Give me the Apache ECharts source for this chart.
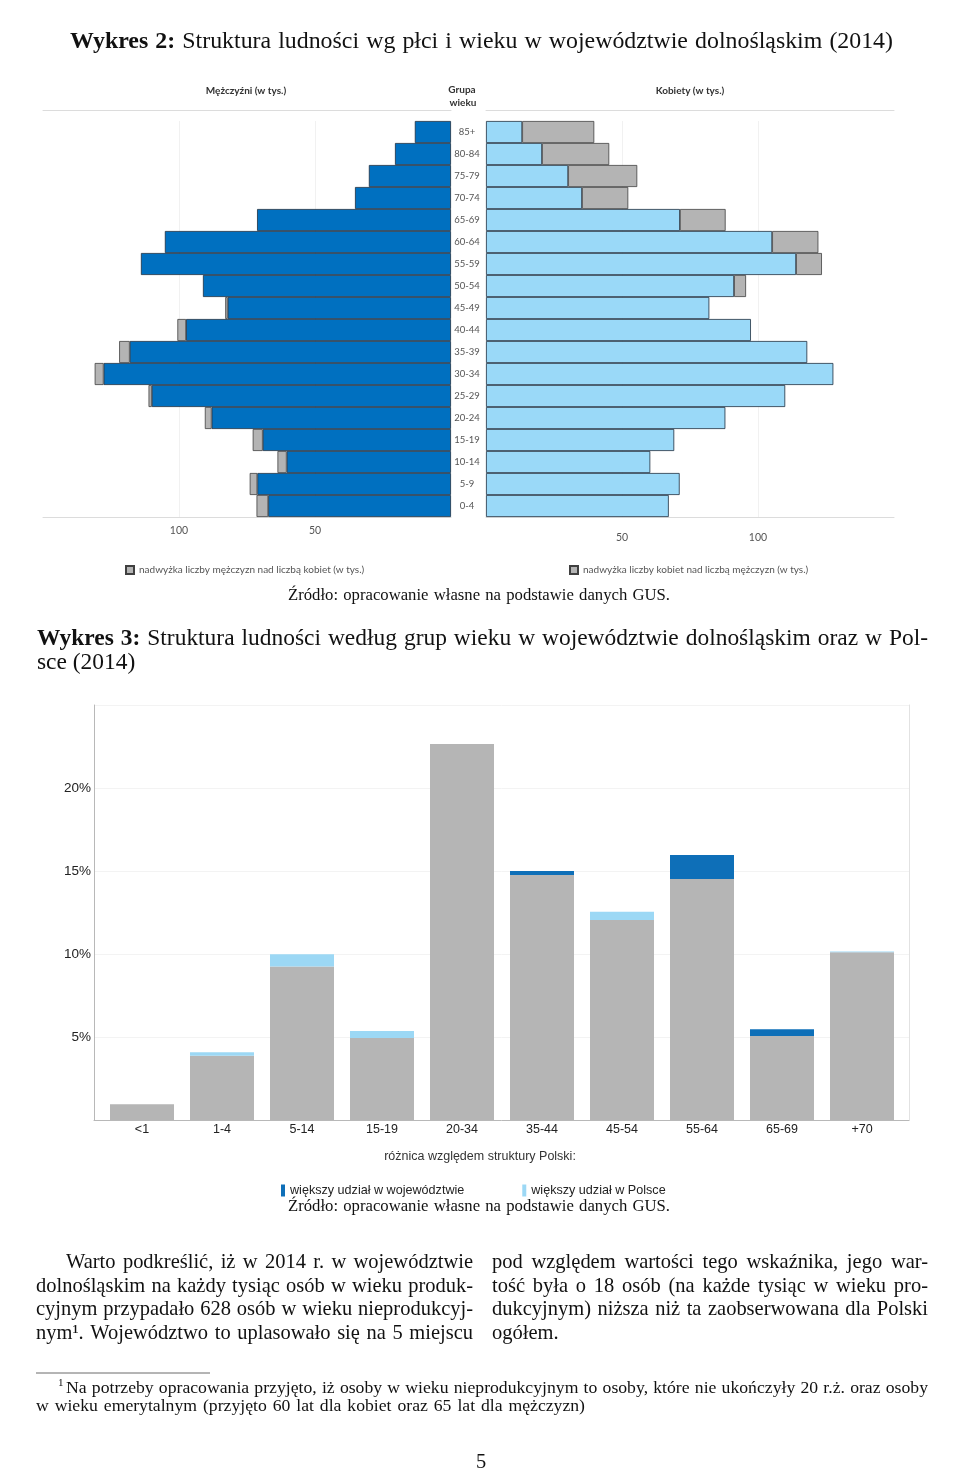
<!DOCTYPE html>
<html><head><meta charset="utf-8">
<script src="https://cdn.jsdelivr.net/npm/echarts@6/dist/echarts.min.js"></script>
<style>html,body{margin:0;padding:0;background:#fff}#c{width:960px;height:1472px}</style>
</head><body><div id="c"></div><script>
// ---------- DATA ----------
const ageGroups = ['0-4','5-9','10-14','15-19','20-24','25-29','30-34','35-39','40-44','45-49','50-54','55-59','60-64','65-69','70-74','75-79','80-84','85+'];
const menThousands   = [71.5, 74.0, 63.8, 72.9, 90.5, 111.2, 131.0, 122.0, 100.6, 83.0, 91.2, 114.0, 105.2, 71.3, 35.3, 30.2, 20.6, 13.3];
const womenThousands = [67.2, 71.2, 60.4, 69.2, 88.0, 110.0, 127.7, 118.1, 97.4, 82.1, 95.6, 123.5, 122.2, 88.1, 52.3, 55.6, 45.3, 39.8];

const shareGroups = ['<1','1-4','5-14','15-19','20-34','35-44','45-54','55-64','65-69','+70'];
const shareRegion = [0.95, 3.87, 9.24, 4.94, 22.65, 15.00, 12.05, 15.96, 5.46, 10.10];
const sharePoland = [0.95, 4.08, 9.98, 5.36, 22.65, 14.76, 12.55, 14.52, 5.06, 10.15];
const shareTicks = [5, 10, 15, 20];

// ---------- DERIVED ----------
const common = menThousands.map((m,i)=>Math.min(m, womenThousands[i]));
const menExcess = menThousands.map((m,i)=>{const d=m-womenThousands[i]; return d>0.05? +d.toFixed(2) : '-';});
const womenExcess = womenThousands.map((w,i)=>{const d=w-menThousands[i]; return d>0.05? +d.toFixed(2) : '-';});
const shareBase = shareRegion.map((r,i)=>Math.min(r, sharePoland[i]));
const shareRegionMore = shareRegion.map((r,i)=>{const d=r-sharePoland[i]; return d>0.001? +d.toFixed(3) : '-';});
const sharePolandMore = shareRegion.map((r,i)=>{const d=sharePoland[i]-r; return d>0.001? +d.toFixed(3) : '-';});

// ---------- TEXT HELPERS ----------
const SERIF = '"Liberation Serif", "DejaVu Serif", serif';
const mctx = document.createElement('canvas').getContext('2d');
function mw(t, size, bold){ mctx.font = (bold?'bold ':'') + size + 'px "Liberation Serif"'; return mctx.measureText(t).width; }
function natural(str, size, nb){
  const words = str.split(' ');
  let t = 0; words.forEach((w,i)=>{ t += mw(w, size, i<(nb||0)); });
  return t + (words.length-1)*mw(' ', size, false);
}
function fitSize(str, width, nb, slack){ return 20 * width / natural(str, 20, nb) * (slack||1); }
function line(str, x0, x1, y, size, opts){
  opts = opts || {};
  const words = str.split(' ');
  const nb = opts.bold || 0;
  const ws = words.map((w,i)=>mw(w, size, i<nb));
  const tot = ws.reduce((a,b)=>a+b,0);
  const gap = (opts.justify!==false && words.length>1) ? (x1-x0-tot)/(words.length-1) : mw(' ', size, false);
  let cx = x0; const els = [];
  words.forEach((w,i)=>{
    els.push({type:'text', x:cx, y:y, silent:true, style:{text:w, fontSize:size, fontFamily:SERIF,
      fontWeight:i<nb?'bold':'normal', fill:opts.color||'#111', align:'left', verticalAlign:'middle',
      textAlign:'left', textVerticalAlign:'middle'}});
    cx += ws[i] + gap;
  });
  return els;
}
function label(str, x, y, size, opts){
  opts = opts || {};
  return {type:'text', x:x, y:y, silent:true, style:{text:str, fontSize:size, fontFamily:opts.family||'"Liberation Sans", Arial, sans-serif',
    fontWeight:opts.weight||'normal', fill:opts.color||'#333', align:opts.align||'center', verticalAlign:'middle',
    textAlign:opts.align||'center', textVerticalAlign:'middle'}};
}
const LATO = 'Lato, "Liberation Sans", sans-serif';
const SANS = '"Liberation Sans", Arial, sans-serif';

let G = [];
const t1 = 'Wykres 2: Struktura ludności wg płci i wieku w województwie dolnośląskim (2014)';
const t1s = fitSize(t1, 823, 2, 0.985);
G = G.concat(line(t1, 70, 893, 42, t1s, {bold:2}));
G.push(label('Mężczyźni (w tys.)', 246, 91, 10, {family:LATO, weight:'bold', color:'#333'}));
G.push(label('Grupa', 462, 90, 10, {family:LATO, weight:'bold', color:'#333'}));
G.push(label('wieku', 463, 103, 10, {family:LATO, weight:'bold', color:'#333'}));
G.push(label('Kobiety (w tys.)', 690, 91, 10, {family:LATO, weight:'bold', color:'#333'}));
const src = 'Źródło: opracowanie własne na podstawie danych GUS.';
const srcS = fitSize(src, 382, 0, 0.985);
G = G.concat(line(src, 288, 670, 596, srcS));
const t2 = 'Wykres 3: Struktura ludności według grup wieku w województwie dolnośląskim oraz w Pol-';
const t2s = fitSize(t2, 891, 2, 0.985);
G = G.concat(line(t2, 37, 928, 639, t2s, {bold:2}));
G = G.concat(line('sce (2014)', 37, 0, 663, t2s, {justify:false}));
G.push(label('różnica względem struktury Polski:', 480, 1157, 12.5, {color:'#333'}));
G = G.concat(line(src, 288, 670, 1207, srcS));
// paragraph
const paraL = [['Warto podkreślić, iż w 2014 r. w województwie', 66, 473],
  ['dolnośląskim na każdy tysiąc osób w wieku produk-', 36, 473],
  ['cyjnym przypadało 628 osób w wieku nieprodukcyj-', 36, 473],
  ['nym¹. Województwo to uplasowało się na 5 miejscu', 36, 473],
  ['pod względem wartości tego wskaźnika, jego war-', 492, 928],
  ['tość była o 18 osób (na każde tysiąc w wieku pro-', 492, 928],
  ['dukcyjnym) niższa niż ta zaobserwowana dla Polski', 492, 928]];
const paraY = [1263, 1287, 1310, 1334, 1263, 1287, 1310];
let P = Math.min.apply(null, paraL.map(p=>fitSize(p[0], p[2]-p[1], 0, 0.99)));
paraL.forEach((p,i)=>{ G = G.concat(line(p[0], p[1], p[2], paraY[i], P)); });
G = G.concat(line('ogółem.', 492, 0, 1334, P, {justify:false}));
// footnote
const f1 = 'Na potrzeby opracowania przyjęto, iż osoby w wieku nieprodukcyjnym to osoby, które nie ukończyły 20 r.ż. oraz osoby';
const f2 = 'w wieku emerytalnym (przyjęto 60 lat dla kobiet oraz 65 lat dla mężczyzn)';
const F = Math.min(fitSize(f1, 862, 0, 0.985), fitSize(f2, 549, 0, 1));
G.push({type:'line', silent:true, shape:{x1:36,y1:1373,x2:210,y2:1373}, style:{stroke:'#444', lineWidth:0.8}});
G.push({type:'text', x:58, y:1383, silent:true, style:{text:'1', fontSize:11, fontFamily:SERIF, fill:'#111', align:'left', verticalAlign:'middle', textAlign:'left', textVerticalAlign:'middle'}});
G = G.concat(line(f1, 66, 928, 1388, F));
G = G.concat(line(f2, 36, 585, 1406, F));
G.push(label('5', 481, 1463, P, {family:SERIF, color:'#111'}));

// ---------- CHART ----------
const chart = echarts.init(document.getElementById('c'), null, {renderer:'canvas', width:960, height:1472});
const noAxis = {axisLine:{show:false}, axisTick:{show:false}, axisLabel:{show:false}, splitLine:{show:false}};
const pyrBorder = {borderColor:'#1e2f40', borderWidth:0.8};
const menExcessName = 'nadwyżka liczby mężczyzn nad liczbą kobiet (w tys.)';
const womenExcessName = 'nadwyżka liczby kobiet nad liczbą mężczyzn (w tys.)';
const regionName = 'większy udział w województwie';
const polandName = 'większy udział w Polsce';

chart.setOption({
  animation:false,
  backgroundColor:'#ffffff',
  grid:[
    {left:43, top:121, width:408, height:396, containLabel:false, outerBoundsMode:'none'},
    {left:486, top:121, width:408, height:396, containLabel:false, outerBoundsMode:'none'},
    {left:94, right:51, top:705, bottom:352, containLabel:false, outerBoundsMode:'none'},
    {left:102, right:58, top:705, bottom:352, containLabel:false, outerBoundsMode:'none'}
  ],
  xAxis:[
    {gridIndex:0, type:'value', inverse:true, min:0, max:150, interval:50,
      axisLine:{show:true, lineStyle:{color:'#dcdcdc', width:1}}, axisTick:{show:false},
      axisLabel:{showMinLabel:false, showMaxLabel:false, fontSize:10.5, color:'#555', fontFamily:LATO, margin:8},
      splitLine:{show:true, showMinLine:false, showMaxLine:false, lineStyle:{color:'#f1f1f1', width:1}}},
    Object.assign({gridIndex:0, type:'value', inverse:true, min:0, max:150, position:'top', offset:11}, noAxis,
      {axisLine:{show:true, lineStyle:{color:'#dcdcdc', width:1}}}),
    {gridIndex:1, type:'value', min:0, max:150, interval:50,
      axisLine:{show:true, lineStyle:{color:'#dcdcdc', width:1}}, axisTick:{show:false},
      axisLabel:{showMinLabel:false, showMaxLabel:false, fontSize:10.5, color:'#555', fontFamily:LATO, margin:15},
      splitLine:{show:true, showMinLine:false, showMaxLine:false, lineStyle:{color:'#f1f1f1', width:1}}},
    Object.assign({gridIndex:1, type:'value', min:0, max:150, position:'top', offset:11}, noAxis,
      {axisLine:{show:true, lineStyle:{color:'#dcdcdc', width:1}}}),
    Object.assign({gridIndex:2, type:'value', min:0, max:1}, noAxis,
      {axisLine:{show:true, lineStyle:{color:'#b8b8b8', width:1}}}),
    {gridIndex:3, type:'category', data:shareGroups, axisLine:{show:false}, axisTick:{show:false},
      axisLabel:{fontSize:12.5, color:'#222', fontFamily:SANS, margin:3, interval:0}, splitLine:{show:false}}
  ],
  yAxis:[
    {gridIndex:0, type:'category', data:ageGroups, position:'right', axisLine:{show:false}, axisTick:{show:false},
      axisLabel:{fontSize:9.5, color:'#555', fontFamily:LATO, align:'center', margin:16, interval:0}, splitLine:{show:false}},
    Object.assign({gridIndex:1, type:'category', data:ageGroups}, noAxis),
    {gridIndex:2, type:'value', min:0, max:25, interval:5,
      axisLine:{show:true, lineStyle:{color:'#b8b8b8', width:1}}, axisTick:{show:false},
      axisLabel:{showMinLabel:false, showMaxLabel:false, fontSize:13.5, color:'#222', fontFamily:SANS, margin:3,
        formatter:(v)=> shareTicks.indexOf(v)>=0 ? v+'%' : ''},
      splitLine:{show:true, lineStyle:{color:'#f3f3f3', width:1}}},
    Object.assign({gridIndex:2, type:'value', min:0, max:25, position:'right'}, noAxis,
      {axisLine:{show:true, lineStyle:{color:'#e2e2e2', width:1}}}),
    Object.assign({gridIndex:3, type:'value', min:0, max:25}, noAxis)
  ],
  legend:[
    {data:[menExcessName], left:120, top:560, icon:'rect', itemWidth:8, itemHeight:8, itemGap:0,
      textStyle:{fontSize:10, color:'#555', fontFamily:LATO}, selectedMode:false},
    {data:[womenExcessName], left:564, top:560, icon:'rect', itemWidth:8, itemHeight:8, itemGap:0,
      textStyle:{fontSize:10, color:'#555', fontFamily:LATO}, selectedMode:false},
    {data:[regionName, polandName], left:276, top:1179, icon:'rect', itemWidth:4, itemHeight:12, itemGap:58,
      textStyle:{fontSize:12.6, color:'#222', fontFamily:SANS}, selectedMode:false}
  ],
  series:[
    {name:'Mężczyźni', type:'bar', xAxisIndex:0, yAxisIndex:0, stack:'m', data:common, barWidth:'100%',
      itemStyle:Object.assign({color:'#0070c0'}, pyrBorder)},
    {name:menExcessName, type:'bar', xAxisIndex:0, yAxisIndex:0, stack:'m', data:menExcess, barWidth:'100%',
      itemStyle:{color:'#b4b4b4', borderColor:'#404040', borderWidth:0.8}},
    {name:'Kobiety', type:'bar', xAxisIndex:2, yAxisIndex:1, stack:'w', data:common, barWidth:'100%',
      itemStyle:Object.assign({color:'#9ad9f8'}, pyrBorder)},
    {name:womenExcessName, type:'bar', xAxisIndex:2, yAxisIndex:1, stack:'w', data:womenExcess, barWidth:'100%',
      itemStyle:{color:'#b4b4b4', borderColor:'#404040', borderWidth:0.8}},
    {name:'wspólny udział', type:'bar', xAxisIndex:5, yAxisIndex:4, stack:'s', data:shareBase, barWidth:64,
      itemStyle:{color:'#b5b5b5'}},
    {name:regionName, type:'bar', xAxisIndex:5, yAxisIndex:4, stack:'s', data:shareRegionMore, barWidth:64,
      itemStyle:{color:'#0e6fb8'}},
    {name:polandName, type:'bar', xAxisIndex:5, yAxisIndex:4, stack:'s', data:sharePolandMore, barWidth:64,
      itemStyle:{color:'#9cd8f5'}}
  ],
  graphic:{elements:G}
});
</script></body></html>
